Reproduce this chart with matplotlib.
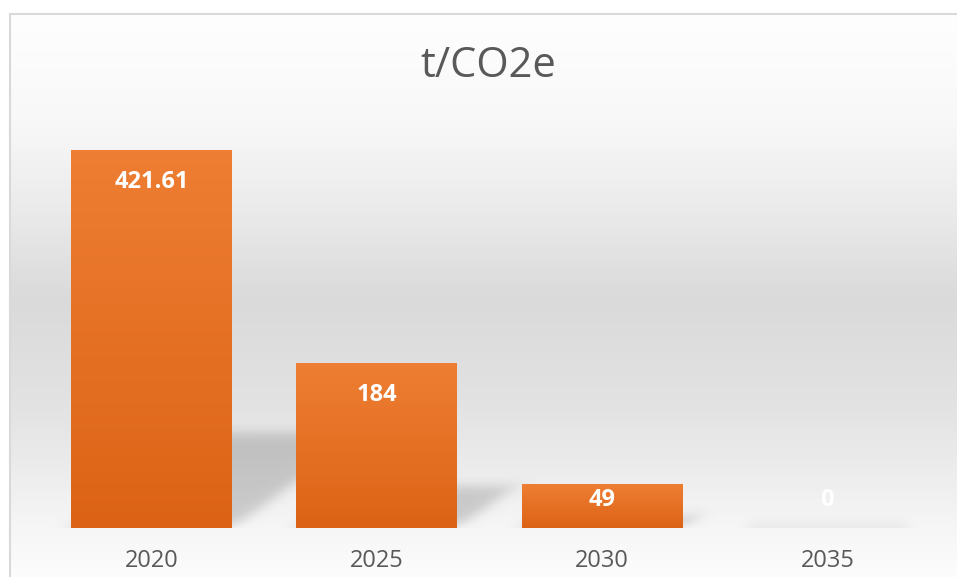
import numpy as np
import matplotlib
matplotlib.use("Agg")
import matplotlib.pyplot as plt
from matplotlib.colors import LinearSegmentedColormap

years = ["2020", "2025", "2030", "2035"]
values = [421.61, 184, 49, 0]
value_labels = ["421.61", "184", "49", "0"]

W, H = 957, 577
plt.rcParams['font.family'] = ['Open Sans', 'DejaVu Sans']

fig = plt.figure(figsize=(W / 100, H / 100), dpi=100)
fig.patch.set_facecolor("white")

# chart area background: vertical grey gradient, light border left/top
bg = fig.add_axes([10 / W, 0, (W - 10) / W, (H - 14) / H])
ys = np.array([14, 120, 200, 300, 400, 470, 530, 577])
gs = np.array([254, 248, 236, 218, 226, 236, 246, 252]) / 255
pos = (ys - 14) / (577 - 14)
bg_cmap = LinearSegmentedColormap.from_list("bg", [(p, (g, g, g)) for p, g in zip(pos, gs)])
bg.imshow(np.linspace(0, 1, 400).reshape(-1, 1), cmap=bg_cmap, aspect="auto",
          extent=[0, 1, 0, 1], origin="upper")
bg.set_xlim(0, 1)
bg.set_ylim(0, 1)
bg.set_xticks([])
bg.set_yticks([])
for s in ["right", "bottom"]:
    bg.spines[s].set_visible(False)
for s in ["left", "top"]:
    bg.spines[s].set_color("#d9d9d9")
    bg.spines[s].set_linewidth(1.5)

# plot area
base_px = 528
ymax = 450
top_px = base_px - 378 / 421.61 * ymax
ax = fig.add_axes([38.75 / W, (H - base_px) / H, (940 - 38.75) / W, (base_px - top_px) / H])
ax.patch.set_alpha(0)
x = np.arange(len(years))
w = 0.714
bars = ax.bar(x, values, width=w, color="#e4701f", zorder=3)

px_per_unit = (base_px - top_px) / ymax
px_per_cat = (940 - 38.75) / 4


def sig(t):
    return 1 / (1 + np.exp(-t))


# soft perspective shadows behind the bars (computed in data space, shown via imshow)
gx = np.linspace(-0.5, 3.5, 900)
gy = np.linspace(0, ymax, 400)
GX, GY = np.meshgrid(gx, gy)
PX = GX * px_per_cat
PY = GY * px_per_unit
alpha = np.zeros_like(PX)
sigma = 3.5
for xi, v in zip(x, values):
    hs = 0.25 * v * px_per_unit
    dx = hs * 1.38
    xl = (xi - w / 2) * px_per_cat
    xr = (xi + w / 2) * px_per_cat
    norm = np.hypot(dx, hs) if hs > 0 else 1.0
    nx, ny = (hs / norm, -dx / norm) if hs > 0 else (1.0, 0.0)
    m = sig(PY / sigma) * sig((hs - PY) / sigma)
    m *= sig(((PX - xl) * nx + PY * ny) / sigma)
    m *= sig(-((PX - xr) * nx + PY * ny) / sigma)
    alpha = np.maximum(alpha, 0.17 * m)
rgba = np.zeros(alpha.shape + (4,))
rgba[..., 3] = alpha
ax.imshow(rgba, extent=[-0.5, 3.5, 0, ymax], origin="lower", aspect="auto", zorder=2)

# vertical orange gradient in each bar
bar_cmap = LinearSegmentedColormap.from_list("bar", ["#dc6316", "#ee7e33"])
for b, v in zip(bars, values):
    if v <= 0:
        continue
    im = ax.imshow(np.linspace(0, 1, 100).reshape(-1, 1), cmap=bar_cmap, aspect="auto",
                   extent=[b.get_x(), b.get_x() + w, 0, v], origin="lower", zorder=3)
    im.set_clip_path(b)

# data labels (inside end)
for xi, v, lab in zip(x, values, value_labels):
    ly = max(v - 32 / px_per_unit, 28 / px_per_unit)
    ax.text(xi, ly, lab, ha="center", va="center", color="white", fontsize=17,
            fontweight="bold", zorder=5)

ax.set_xlim(-0.5, 3.5)
ax.set_ylim(0, ymax)
ax.set_xticks(x)
ax.set_xticklabels(years, fontsize=17, color="#595959")
ax.tick_params(axis="x", length=0, pad=15)
ax.set_yticks([])
for s in ax.spines.values():
    s.set_visible(False)

fig.text(488 / W, 1 - 66 / H, "t/CO2e", ha="center", va="center", fontsize=30, color="#595959")

fig.savefig("out.png", dpi=100)
